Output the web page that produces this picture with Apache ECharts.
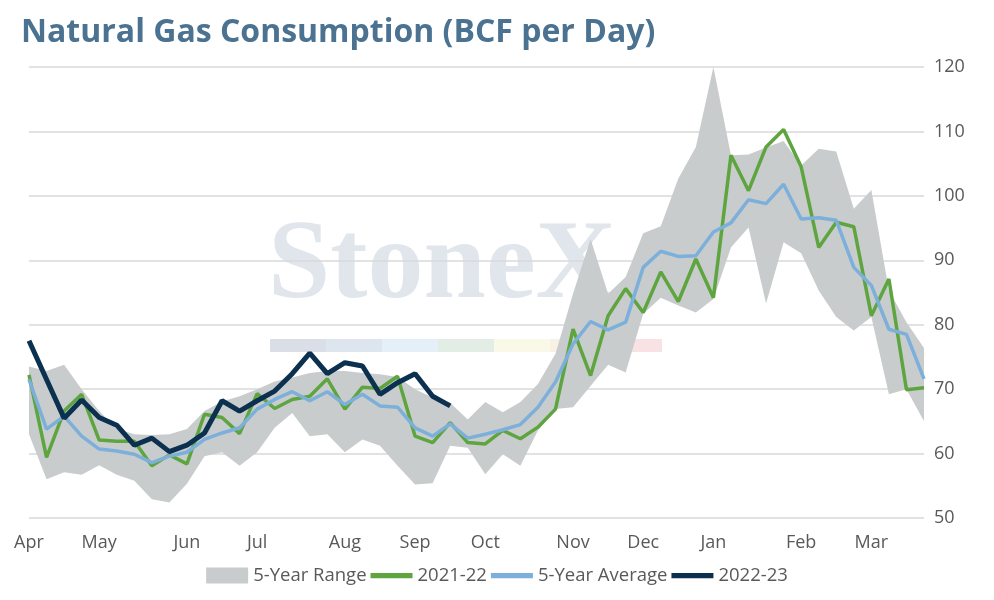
<!DOCTYPE html>
<html><head><meta charset="utf-8">
<script src="https://cdn.jsdelivr.net/npm/echarts@6/dist/echarts.min.js"></script>
<style>html,body{margin:0;padding:0;background:#fff}#c{width:994px;height:600px}</style>
</head><body><div id="c"></div>
<script>
const monthAt = {0:'Apr',4:'May',9:'Jun',13:'Jul',18:'Aug',22:'Sep',26:'Oct',31:'Nov',35:'Dec',39:'Jan',44:'Feb',48:'Mar'};
const categories = Array.from({length:52},(_,i)=>monthAt[i]||('w'+i));
const rangeLow = [63.0,56.0,57.1,56.7,58.2,56.7,55.8,52.9,52.4,55.3,59.6,60.2,58.1,60.2,64.0,66.3,62.7,63.0,60.2,62.2,61.2,58.1,55.2,55.4,61.2,60.9,56.8,59.9,58.1,63.6,66.9,67.2,70.5,73.8,72.6,81.7,84.2,83.0,81.9,84.0,92.0,95.1,83.3,92.8,91.1,85.3,81.2,79.1,81.2,69.2,70.0,65.0];
const rangeHigh = [73.5,72.8,73.8,70.0,66.6,63.8,63.0,62.9,63.0,63.8,66.6,68.1,68.9,70.0,71.2,71.8,72.5,72.8,72.8,72.5,72.3,71.9,70.0,68.7,67.9,65.3,68.0,66.4,68.0,70.8,75.5,84.8,93.3,84.8,87.4,94.2,95.3,102.7,107.6,120.0,106.3,106.4,107.5,108.5,104.7,107.3,106.9,98.0,100.9,85.3,80.4,76.4];
const s2122 = [72.2,59.4,66.6,69.2,62.1,61.9,61.9,58.1,59.8,58.4,66.1,65.6,63.1,69.3,67.0,68.4,68.9,71.6,66.9,70.3,70.1,72.0,62.7,61.7,64.8,61.7,61.5,63.6,62.3,64.1,66.9,79.3,72.1,81.4,85.6,81.9,88.2,83.6,90.2,84.2,106.3,100.8,107.6,110.3,104.5,92.0,95.9,95.2,81.4,87.1,69.9,70.2];
const avg5 = [71.5,63.8,65.8,62.7,60.7,60.4,59.9,58.6,59.6,60.2,62.2,63.2,64.0,66.9,68.4,69.6,68.2,69.6,67.6,69.2,67.4,67.2,64.0,62.7,64.6,62.4,63.0,63.7,64.5,67.2,71.1,77.0,80.5,79.2,80.4,88.9,91.4,90.6,90.7,94.4,95.8,99.4,98.8,101.8,96.4,96.6,96.2,88.9,86.1,79.3,78.5,71.6];
const s2223 = [77.5,71.5,65.5,68.3,65.6,64.4,61.3,62.4,60.3,61.3,63.2,68.2,66.6,68.2,69.7,72.4,75.6,72.4,74.1,73.6,69.2,71.0,72.4,68.9,67.4];

const FONT = 'Open Sans';
const chart = echarts.init(document.getElementById('c'));
const band = rangeHigh.map((h,i)=>+(h-rangeLow[i]).toFixed(1));
const lineIcon = 'path://M0,0H40V5H0Z';
chart.setOption({
  animation:false,
  title:{text:'Natural Gas Consumption (BCF per Day)',left:16,top:12,textStyle:{fontFamily:FONT,fontWeight:'bold',fontSize:32,color:'#4b7391'}},
  graphic:[
    {type:'text',left:268,top:212,z:0,style:{text:'StoneX',font:'bold 112px "Liberation Serif"',fill:'rgba(180,192,208,0.4)'}},
    {type:'text',left:664,top:244,z:0,style:{text:'TM',font:'11px "Liberation Sans"',fill:'rgba(175,188,205,0.5)'}},
    {type:'rect',z:0,shape:{x:270,y:339,width:56,height:13},style:{fill:'rgba(160,172,195,0.4)'}},
    {type:'rect',z:0,shape:{x:326,y:339,width:56,height:13},style:{fill:'rgba(170,190,215,0.4)'}},
    {type:'rect',z:0,shape:{x:382,y:339,width:56,height:13},style:{fill:'rgba(190,215,235,0.4)'}},
    {type:'rect',z:0,shape:{x:438,y:339,width:56,height:13},style:{fill:'rgba(180,210,190,0.4)'}},
    {type:'rect',z:0,shape:{x:494,y:339,width:56,height:13},style:{fill:'rgba(245,240,200,0.45)'}},
    {type:'rect',z:0,shape:{x:550,y:339,width:56,height:13},style:{fill:'rgba(245,225,200,0.45)'}},
    {type:'rect',z:0,shape:{x:606,y:339,width:56,height:13},style:{fill:'rgba(240,190,195,0.45)'}}
  ],
  legend:{bottom:10,left:'center',itemGap:4,itemWidth:42,itemHeight:16,textStyle:{fontFamily:FONT,fontSize:18.5,color:'#595959'},
    data:[{name:'5-Year Range',icon:'rect'},{name:'2021-22',icon:lineIcon,itemHeight:4},{name:'5-Year Average',icon:lineIcon,itemHeight:4},{name:'2022-23',icon:lineIcon,itemHeight:5}]},
  grid:{left:29,right:70,top:67,bottom:82},
  xAxis:{type:'category',data:categories,boundaryGap:false,
    axisLine:{show:false},axisTick:{show:false},
    axisLabel:{interval:0,fontFamily:FONT,fontSize:18,color:'#595959',margin:16,formatter:v=>v.startsWith('w')?'':v}},
  yAxis:{type:'value',position:'right',min:50,max:120,interval:10,
    axisLine:{show:false},axisTick:{show:false},
    axisLabel:{fontFamily:FONT,fontSize:18,color:'#595959',margin:10},
    splitLine:{lineStyle:{color:'#d9d9d9',width:1.5}}},
  series:[
    {name:'low',type:'line',stack:'r',data:rangeLow,symbol:'none',lineStyle:{width:0},silent:true},
    {name:'5-Year Range',type:'line',stack:'r',data:band,symbol:'none',lineStyle:{width:0},itemStyle:{color:'#c9cccd'},areaStyle:{color:'#c9cccd',opacity:1}},
    {name:'2021-22',type:'line',data:s2122,symbol:'none',itemStyle:{color:'#5ea540'},lineStyle:{width:3.5,color:'#5ea540'}},
    {name:'5-Year Average',type:'line',data:avg5,symbol:'none',itemStyle:{color:'#7cb0da'},lineStyle:{width:3.5,color:'#7cb0da'}},
    {name:'2022-23',type:'line',data:s2223,symbol:'none',itemStyle:{color:'#0c3150'},lineStyle:{width:5,color:'#0c3150'}}
  ]
});
</script></body></html>
